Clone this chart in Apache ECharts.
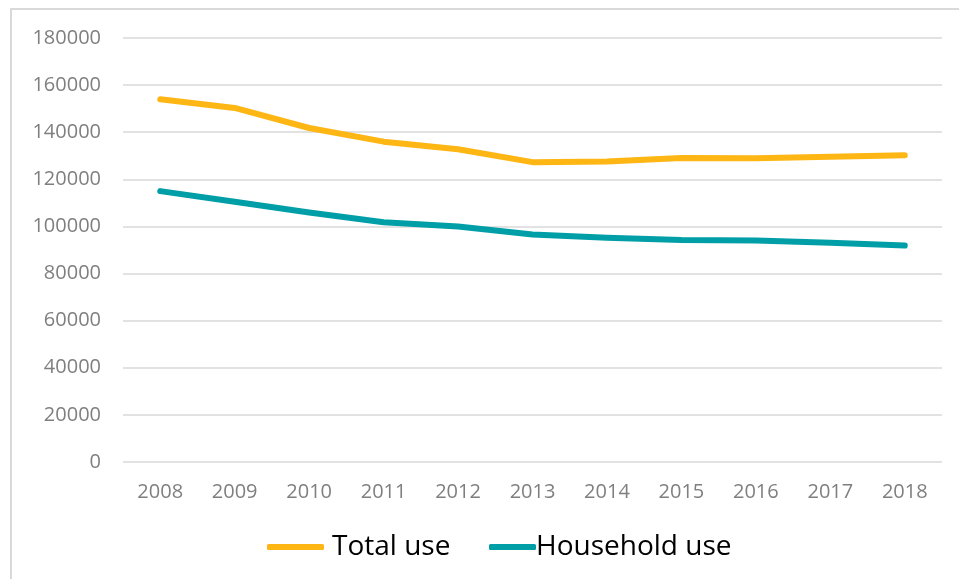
<!DOCTYPE html>
<html>
<head>
<meta charset="utf-8">
<script src="https://cdn.jsdelivr.net/npm/echarts@6/dist/echarts.min.js"></script>
<style>
html,body{margin:0;padding:0;background:#fff;}
#chart{width:959px;height:579px;}
</style>
</head>
<body>
<div id="chart"></div>
<script>
const years = ['2008','2009','2010','2011','2012','2013','2014','2015','2016','2017','2018'];
const totalUse = [154000,150300,141800,136000,132800,127300,127600,129100,129000,129600,130200];
const householdUse = [115000,110500,105900,101800,100000,96600,95200,94200,94000,93100,91900];
const seriesNames = ['Total use','Household use'];
const colors = ['#FDB614','#009EA6'];

const chart = echarts.init(document.getElementById('chart'));
const font = 'Open Sans';
chart.setOption({
  animation: false,
  backgroundColor: '#fff',
  graphic: [{
    type: 'rect', shape: {x: 11, y: 9, width: 1000, height: 600},
    style: {fill: 'none', stroke: '#d9d9d9', lineWidth: 2}, silent: true
  }],
  grid: {left: 123, right: 17, top: 38, bottom: 117, containLabel: false},
  legend: [
    {data: [seriesNames[0]], left: 262, top: 528, itemWidth: 57, itemHeight: 6, itemGap: 0,
     icon: 'roundRect', textStyle: {fontFamily: font, fontSize: 28, color: '#000', padding: [0,0,0,3]}},
    {data: [seriesNames[1]], left: 484, top: 528, itemWidth: 47, itemHeight: 6, itemGap: 0,
     icon: 'roundRect', textStyle: {fontFamily: font, fontSize: 28, color: '#000', padding: [0,0,0,-5]}}
  ],
  xAxis: {
    type: 'category', data: years, boundaryGap: true,
    axisLine: {show: false}, axisTick: {show: false},
    axisLabel: {color: '#7f7f7f', fontFamily: font, fontSize: 20, margin: 20}
  },
  yAxis: {
    type: 'value', min: 0, max: 180000, interval: 20000,
    axisLine: {show: false}, axisTick: {show: false},
    axisLabel: {color: '#7f7f7f', fontFamily: font, fontSize: 20, margin: 22, formatter: v => String(v)},
    splitLine: {lineStyle: {color: '#d9d9d9', width: 1.5}}
  },
  series: [
    {name: seriesNames[0], type: 'line', data: totalUse, symbol: 'none', color: colors[0],
     lineStyle: {width: 6, color: colors[0], cap: 'round', join: 'round'}},
    {name: seriesNames[1], type: 'line', data: householdUse, symbol: 'none', color: colors[1],
     lineStyle: {width: 6, color: colors[1], cap: 'round', join: 'round'}}
  ]
});
</script>
</body>
</html>
